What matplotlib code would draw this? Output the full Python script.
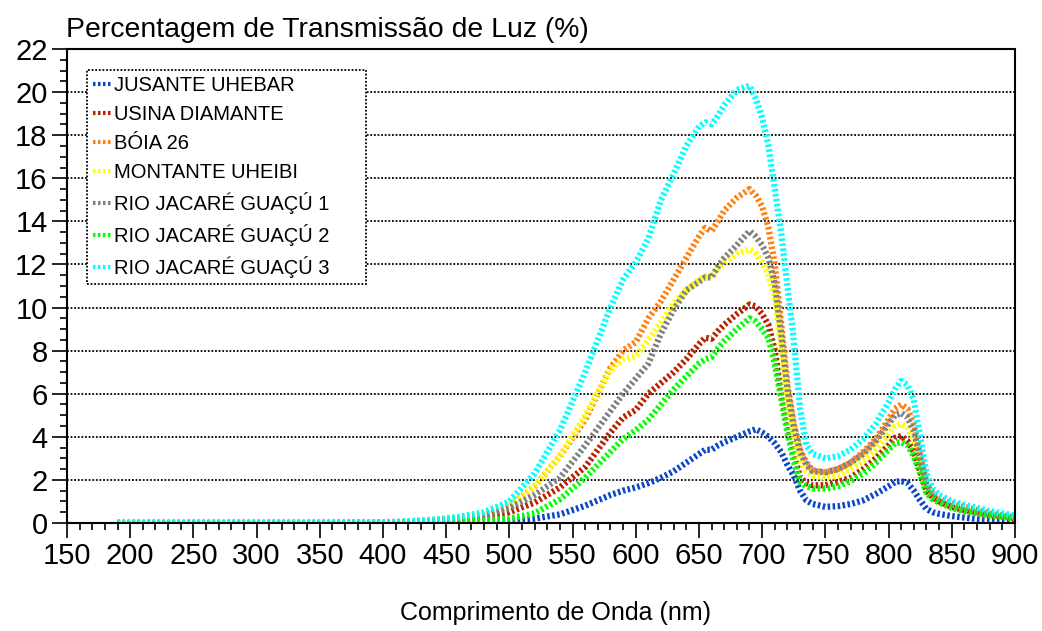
import matplotlib
matplotlib.use("Agg")
import matplotlib.pyplot as plt
from matplotlib.ticker import MultipleLocator

plt.rcParams['font.family'] = ['Liberation Sans', 'DejaVu Sans']

# wavelength grid (nm), shared by all series
wavelength = [190, 250, 300, 350, 400, 420, 440, 460, 480, 500, 520, 540, 560, 580,
              590, 600, 610, 620, 630, 640, 650, 655, 660, 665, 670, 680, 690, 695,
              700, 705, 710, 715, 720, 725, 730, 735, 740, 750, 760, 770, 780, 790,
              800, 805, 810, 815, 820, 825, 830, 835, 840, 850, 860, 870, 880, 890, 900]

jusante_uhebar = [0, 0, 0, 0, 0, 0, 0.02, 0.04, 0.06, 0.1, 0.2, 0.4, 0.8, 1.3,
                  1.5, 1.65, 1.85, 2.1, 2.4, 2.8, 3.2, 3.4, 3.4, 3.6, 3.75, 4.0, 4.25, 4.35,
                  4.2, 4.0, 3.7, 3.3, 2.7, 2.2, 1.5, 1.05, 0.88, 0.75, 0.78, 0.88, 1.05, 1.35,
                  1.7, 1.9, 1.95, 1.85, 1.5, 1.05, 0.65, 0.5, 0.42, 0.32, 0.25, 0.18, 0.14, 0.12, 0.1]

usina_diamante = [0, 0, 0, 0, 0.01, 0.04, 0.08, 0.15, 0.28, 0.5, 0.95, 1.65, 2.6, 4.2,
                  4.9, 5.25, 6.0, 6.5, 7.0, 7.6, 8.3, 8.6, 8.55, 8.9, 9.2, 9.7, 10.14, 10.05,
                  9.7, 9.2, 8.0, 6.1, 4.6, 3.3, 2.1, 1.85, 1.75, 1.75, 1.9, 2.1, 2.5, 3.0,
                  3.6, 3.95, 4.04, 3.8, 3.3, 2.4, 1.5, 1.2, 1.0, 0.75, 0.6, 0.5, 0.38, 0.3, 0.22]

boia_26 = [0, 0, 0, 0, 0.02, 0.06, 0.12, 0.22, 0.42, 0.8, 1.7, 3.1, 4.8, 7.2,
           8.0, 8.4, 9.5, 10.3, 11.3, 12.3, 13.3, 13.7, 13.55, 14.0, 14.5, 15.1, 15.5, 15.2,
           14.7, 13.7, 12.0, 9.3, 6.4, 4.6, 3.4, 2.8, 2.45, 2.35, 2.5, 2.8, 3.3, 3.9,
           4.8, 5.3, 5.5, 5.3, 4.6, 3.2, 1.9, 1.4, 1.15, 0.9, 0.75, 0.6, 0.45, 0.35, 0.28]

montante_uheibi = [0, 0, 0, 0, 0.03, 0.08, 0.14, 0.25, 0.45, 0.85, 1.7, 3.1, 5.0, 7.1,
                   7.6, 7.75, 8.5, 9.3, 10.2, 10.8, 11.3, 11.45, 11.5, 11.8, 12.1, 12.5, 12.7, 12.5,
                   12.1, 11.5, 10.5, 8.2, 5.7, 4.0, 2.9, 2.4, 2.2, 2.1, 2.2, 2.5, 2.9, 3.4,
                   4.1, 4.5, 4.6, 4.4, 3.9, 2.8, 1.7, 1.3, 1.1, 0.85, 0.7, 0.55, 0.42, 0.32, 0.25]

jacare_1 = [0, 0, 0, 0, 0.02, 0.05, 0.1, 0.18, 0.35, 0.7, 1.3, 2.1, 3.6, 5.2,
            6.0, 6.7, 7.4, 8.8, 9.9, 10.8, 11.2, 11.4, 11.4, 11.9, 12.3, 12.9, 13.55, 13.3,
            12.9, 12.3, 11.1, 8.8, 6.2, 4.5, 3.3, 2.7, 2.4, 2.35, 2.5, 2.8, 3.2, 3.8,
            4.6, 5.0, 5.1, 4.9, 4.3, 3.0, 1.8, 1.35, 1.1, 0.85, 0.7, 0.55, 0.42, 0.32, 0.25]

jacare_2 = [0, 0, 0, 0, 0, 0.02, 0.04, 0.07, 0.12, 0.2, 0.45, 1.1, 2.1, 3.3,
            3.9, 4.3, 4.8, 5.5, 6.2, 6.8, 7.4, 7.6, 7.7, 8.1, 8.45, 9.0, 9.5, 9.35,
            9.0, 8.6, 7.4, 5.8, 4.2, 2.9, 1.9, 1.7, 1.6, 1.6, 1.7, 1.95, 2.3, 2.8,
            3.4, 3.7, 3.75, 3.6, 3.1, 2.3, 1.4, 1.1, 0.95, 0.7, 0.55, 0.45, 0.35, 0.28, 0.2]

jacare_3 = [0, 0, 0, 0, 0.02, 0.08, 0.16, 0.28, 0.5, 1.0, 2.3, 4.3, 7.0, 10.0,
            11.3, 12.1, 13.2, 15.0, 16.2, 17.5, 18.4, 18.6, 18.5, 18.9, 19.4, 20.1, 20.3, 19.7,
            18.8, 17.5, 15.5, 13.5, 11.0, 8.5, 5.3, 3.6, 3.2, 3.0, 3.1, 3.4, 3.9, 4.6,
            5.6, 6.2, 6.6, 6.4, 5.7, 4.0, 2.3, 1.6, 1.3, 1.0, 0.85, 0.7, 0.55, 0.45, 0.35]

labels = ['JUSANTE UHEBAR', 'USINA DIAMANTE', 'BÓIA 26', 'MONTANTE UHEIBI',
          'RIO JACARÉ GUAÇÚ 1', 'RIO JACARÉ GUAÇÚ 2', 'RIO JACARÉ GUAÇÚ 3']
colors = ['#0A46C8', '#B82200', '#FF8010', '#FFFF00', '#808080', '#00FF00', '#00FFFF']
series = [jusante_uhebar, usina_diamante, boia_26, montante_uheibi,
          jacare_1, jacare_2, jacare_3]

fig = plt.figure(figsize=(10.42, 6.31), dpi=100)
ax = fig.add_axes([0.0643, 0.1712, 0.9097, 0.7511])

for vals, col, lab in zip(series, colors, labels):
    ax.plot(wavelength, vals, color=col, lw=4.5, linestyle=(0, (0.4, 0.4)),
            dash_capstyle='butt', label=lab)

ax.set_xlim(150, 900)
ax.set_ylim(0, 22)
ax.xaxis.set_major_locator(MultipleLocator(50))
ax.xaxis.set_minor_locator(MultipleLocator(10))
ax.yaxis.set_major_locator(MultipleLocator(2))
ax.yaxis.set_minor_locator(MultipleLocator(0.5))
ax.tick_params(which='major', length=11, width=1.2, direction='out', labelsize=21, pad=3)
ax.tick_params(which='minor', length=5, width=1.2, direction='out')

ax.yaxis.grid(True, which='major', color='black', linestyle=(0, (1, 1)), lw=1.3)
ax.set_axisbelow(True)

for side in ['left', 'top']:
    ax.spines[side].set_linewidth(1.5)
for side in ['bottom', 'right']:
    ax.spines[side].set_linestyle((0, (1, 1)))
    ax.spines[side].set_linewidth(1.5)

fig.text(0.063, 0.952, 'Percentagem de Transmissão de Luz (%)', fontsize=20.4,
         ha='left', va='center')
fig.text(0.533, 0.029, 'Comprimento de Onda (nm)', fontsize=18, ha='center', va='center')

# legend box stretched to the reference width
leg = ax.legend(loc='upper left', bbox_to_anchor=(0.021, 0.956, 0.294, 0.0),
                mode='expand', fontsize=14.5,
                handlelength=0.9, handletextpad=0.15, labelspacing=0.5,
                borderpad=0.3, fancybox=False, framealpha=1, borderaxespad=0)
leg.get_frame().set_edgecolor('black')
leg.get_frame().set_linestyle((0, (1, 1)))
leg.get_frame().set_linewidth(1.3)
for h in leg.get_lines():
    h.set_linewidth(3)
    h.set_linestyle((0, (0.6, 0.6)))

fig.savefig('out.png', dpi=100)
